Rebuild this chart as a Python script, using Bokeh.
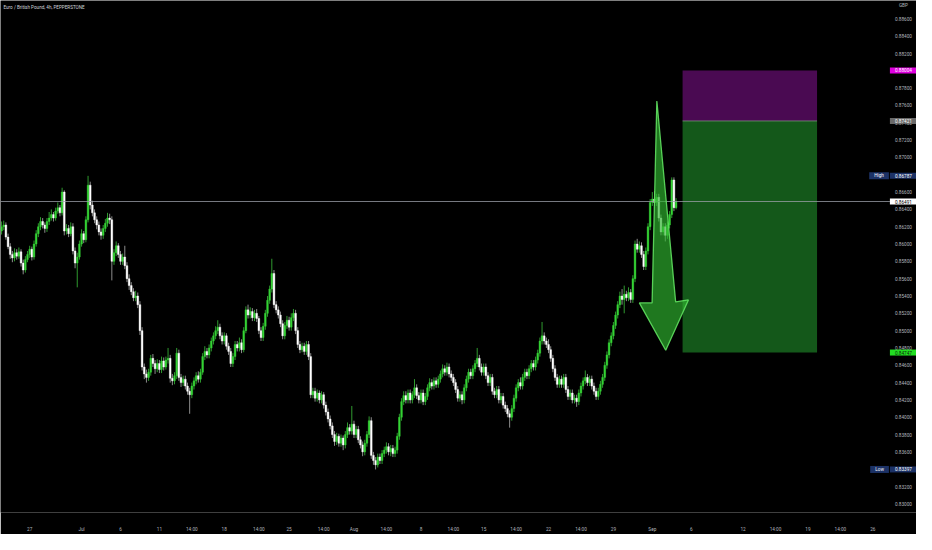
import numpy as np
from bokeh.plotting import figure
from bokeh.models import Range1d, FixedTicker, Label, ColumnDataSource
from bokeh.core.properties import value
from bokeh.embed import file_html
from bokeh.resources import INLINE

# ---------------- data ----------------
first_open = 0.8615
closes = [
    0.8620, 0.8622, 0.8608, 0.8597, 0.8588, 0.8584, 0.8590, 0.8586, 0.8591, 0.8578,
    0.8570, 0.8582, 0.8588, 0.8594, 0.8585, 0.8600, 0.8612, 0.8620, 0.8626, 0.8622,
    0.8618, 0.8626, 0.8630, 0.8634, 0.8630, 0.8638, 0.8642, 0.8636, 0.8660, 0.8615,
    0.8618, 0.8612, 0.8620, 0.8592, 0.8578, 0.8585, 0.8600, 0.8612, 0.8605, 0.8628,
    0.8668, 0.8645, 0.8636, 0.8628, 0.8622, 0.8614, 0.8610, 0.8618, 0.8624, 0.8630,
    0.8628, 0.8580, 0.8590, 0.8598, 0.8588, 0.8580, 0.8585, 0.8575, 0.8560, 0.8552,
    0.8545, 0.8538, 0.8540, 0.8530, 0.8500, 0.8458, 0.8450, 0.8446, 0.8452, 0.8468,
    0.8462, 0.8456, 0.8462, 0.8455, 0.8465, 0.8458, 0.8466, 0.8468, 0.8445, 0.8442,
    0.8448, 0.8474, 0.8446, 0.8440, 0.8444, 0.8436, 0.8430, 0.8426, 0.8436, 0.8442,
    0.8448, 0.8444, 0.8452, 0.8470, 0.8476, 0.8472, 0.8480, 0.8488, 0.8494, 0.8500,
    0.8504, 0.8494, 0.8488, 0.8494, 0.8482, 0.8476, 0.8462, 0.8470, 0.8484, 0.8480,
    0.8486, 0.8478, 0.8500, 0.8524, 0.8518, 0.8522, 0.8515, 0.8520, 0.8514, 0.8500,
    0.8492, 0.8505, 0.8520, 0.8535, 0.8548, 0.8566, 0.8530, 0.8524, 0.8518, 0.8508,
    0.8494, 0.8506, 0.8512, 0.8504, 0.8515, 0.8520, 0.8500, 0.8484, 0.8478, 0.8482,
    0.8476, 0.8484, 0.8470, 0.8426, 0.8430, 0.8422, 0.8428, 0.8420, 0.8426, 0.8414,
    0.8406, 0.8398, 0.8390, 0.8380, 0.8372, 0.8378, 0.8370, 0.8376, 0.8368, 0.8380,
    0.8388, 0.8384, 0.8392, 0.8380, 0.8386, 0.8374, 0.8368, 0.8360, 0.8370, 0.8380,
    0.8396, 0.8356, 0.8350, 0.8345, 0.8354, 0.8350, 0.8358, 0.8362, 0.8366, 0.8360,
    0.8364, 0.8358, 0.8362, 0.8378, 0.8400, 0.8418, 0.8425, 0.8420, 0.8428, 0.8420,
    0.8426, 0.8434, 0.8425, 0.8420, 0.8428, 0.8418, 0.8424, 0.8434, 0.8440, 0.8436,
    0.8442, 0.8438, 0.8444, 0.8450, 0.8456, 0.8452, 0.8458, 0.8450, 0.8446, 0.8440,
    0.8432, 0.8422, 0.8426, 0.8420, 0.8434, 0.8444, 0.8452, 0.8448, 0.8456, 0.8462,
    0.8468, 0.8458, 0.8452, 0.8458, 0.8448, 0.8440, 0.8446, 0.8430, 0.8426, 0.8432,
    0.8420, 0.8424, 0.8414, 0.8410, 0.8404, 0.8400, 0.8410, 0.8422, 0.8434, 0.8440,
    0.8436, 0.8446, 0.8452, 0.8448, 0.8456, 0.8462, 0.8458, 0.8466, 0.8474, 0.8488,
    0.8494, 0.8488, 0.8484, 0.8478, 0.8468, 0.8456, 0.8446, 0.8438, 0.8444, 0.8438,
    0.8446, 0.8432, 0.8424, 0.8428, 0.8420, 0.8422, 0.8418, 0.8428, 0.8436, 0.8442,
    0.8446, 0.8440, 0.8444, 0.8436, 0.8430, 0.8424, 0.8430, 0.8438, 0.8446, 0.8460,
    0.8472, 0.8486, 0.8494, 0.8506, 0.8518, 0.8530, 0.8540, 0.8536, 0.8542, 0.8538,
    0.8544, 0.8536, 0.8560, 0.8600, 0.8594, 0.8598, 0.8588, 0.8574, 0.8592, 0.8620,
    0.8648, 0.8652, 0.8648, 0.8654, 0.8630, 0.8614, 0.8620, 0.8610, 0.8622, 0.8634,
    0.8674, 0.8642, 0.8649,
]
highs = [
    0.8626, 0.8627, 0.8625, 0.8612, 0.8601, 0.8592, 0.8595, 0.8594, 0.8596, 0.8594,
    0.8582, 0.8586, 0.8592, 0.8598, 0.8597, 0.8604, 0.8616, 0.8624, 0.8631, 0.8630,
    0.8625, 0.8630, 0.8637, 0.8640, 0.8637, 0.8642, 0.8648, 0.8645, 0.8665, 0.8662,
    0.8623, 0.8622, 0.8625, 0.8624, 0.8596, 0.8590, 0.8604, 0.8617, 0.8615, 0.8632,
    0.86787, 0.8672, 0.8650, 0.8640, 0.8632, 0.8626, 0.8618, 0.8622, 0.8629, 0.8636,
    0.8635, 0.8632, 0.8594, 0.8603, 0.8601, 0.8592, 0.8589, 0.8598, 0.8579, 0.8565,
    0.8556, 0.8549, 0.8546, 0.8544, 0.8534, 0.8504, 0.8462, 0.8455, 0.8456, 0.8472,
    0.8473, 0.8466, 0.8467, 0.8466, 0.8470, 0.8469, 0.8470, 0.8480, 0.8472, 0.8450,
    0.8452, 0.8480, 0.8478, 0.8450, 0.8448, 0.8448, 0.8440, 0.8434, 0.8440, 0.8446,
    0.8452, 0.8453, 0.8456, 0.8474, 0.8482, 0.8480, 0.8484, 0.8492, 0.8498, 0.8505,
    0.8512, 0.8508, 0.8498, 0.8498, 0.8497, 0.8486, 0.8480, 0.8474, 0.8488, 0.8488,
    0.8492, 0.8490, 0.8504, 0.8528, 0.8530, 0.8527, 0.8526, 0.8524, 0.8525, 0.8517,
    0.8504, 0.8509, 0.8524, 0.8540, 0.8552, 0.8583, 0.8570, 0.8534, 0.8528, 0.8522,
    0.8512, 0.8510, 0.8517, 0.8516, 0.8520, 0.8525, 0.8524, 0.8504, 0.8488, 0.8486,
    0.8486, 0.8488, 0.8488, 0.8474, 0.8434, 0.8434, 0.8432, 0.8431, 0.8430, 0.8429,
    0.8418, 0.8410, 0.8402, 0.8394, 0.8384, 0.8382, 0.8381, 0.8380, 0.8379, 0.8384,
    0.8394, 0.8392, 0.8413, 0.8396, 0.8390, 0.8390, 0.8378, 0.8372, 0.8374, 0.8384,
    0.8401, 0.8400, 0.8360, 0.8354, 0.8358, 0.8358, 0.8362, 0.8366, 0.8371, 0.8370,
    0.8368, 0.8368, 0.8366, 0.8382, 0.8404, 0.8422, 0.8430, 0.8430, 0.8432, 0.8432,
    0.8430, 0.8444, 0.8438, 0.8429, 0.8432, 0.8432, 0.8428, 0.8438, 0.8445, 0.8444,
    0.8446, 0.8446, 0.8448, 0.8454, 0.8461, 0.8460, 0.8463, 0.8462, 0.8454, 0.8450,
    0.8444, 0.8436, 0.8430, 0.8430, 0.8438, 0.8448, 0.8456, 0.8456, 0.8460, 0.8466,
    0.8480, 0.8472, 0.8462, 0.8462, 0.8462, 0.8452, 0.8450, 0.8450, 0.8434, 0.8436,
    0.8436, 0.8428, 0.8428, 0.8418, 0.8414, 0.8408, 0.8414, 0.8426, 0.8438, 0.8444,
    0.8446, 0.8450, 0.8456, 0.8456, 0.8460, 0.8466, 0.8466, 0.8470, 0.8478, 0.8492,
    0.8510, 0.8498, 0.8492, 0.8490, 0.8482, 0.8472, 0.8460, 0.8450, 0.8448, 0.8448,
    0.8450, 0.8450, 0.8436, 0.8432, 0.8432, 0.8426, 0.8426, 0.8432, 0.8440, 0.8446,
    0.8454, 0.8450, 0.8448, 0.8448, 0.8440, 0.8434, 0.8434, 0.8442, 0.8450, 0.8464,
    0.8476, 0.8490, 0.8498, 0.8510, 0.8522, 0.8534, 0.8545, 0.8548, 0.8552, 0.8546,
    0.8550, 0.8548, 0.8564, 0.8604, 0.8606, 0.8603, 0.8602, 0.8592, 0.8596, 0.8624,
    0.8652, 0.8660, 0.8661, 0.8658, 0.8658, 0.8634, 0.8624, 0.8624, 0.8626, 0.8638,
    0.8677, 0.8677, 0.8653,
]
lows = [
    0.8611, 0.8616, 0.8605, 0.8594, 0.8583, 0.8579, 0.8580, 0.8582, 0.8583, 0.8574,
    0.8565, 0.8567, 0.8579, 0.8584, 0.8581, 0.8582, 0.8597, 0.8608, 0.8616, 0.8618,
    0.8613, 0.8614, 0.8622, 0.8627, 0.8626, 0.8627, 0.8635, 0.8632, 0.8633, 0.8610,
    0.8611, 0.8608, 0.8609, 0.8588, 0.8572, 0.8550, 0.8582, 0.8597, 0.8601, 0.8602,
    0.8625, 0.8640, 0.8632, 0.8624, 0.8617, 0.8610, 0.8605, 0.8606, 0.8614, 0.8620,
    0.8623, 0.8558, 0.8576, 0.8586, 0.8584, 0.8576, 0.8576, 0.8571, 0.8556, 0.8547,
    0.8541, 0.8534, 0.8534, 0.8526, 0.8495, 0.8454, 0.8444, 0.8440, 0.8442, 0.8448,
    0.8458, 0.8450, 0.8452, 0.8451, 0.8451, 0.8454, 0.8455, 0.8462, 0.8440, 0.8437,
    0.8438, 0.8444, 0.8442, 0.8435, 0.8436, 0.8432, 0.8426, 0.8404, 0.8422, 0.8432,
    0.8438, 0.8440, 0.8440, 0.8449, 0.8466, 0.8468, 0.8468, 0.8476, 0.8484, 0.8490,
    0.8496, 0.8490, 0.8484, 0.8484, 0.8478, 0.8472, 0.8458, 0.8458, 0.8466, 0.8476,
    0.8476, 0.8474, 0.8475, 0.8497, 0.8514, 0.8514, 0.8511, 0.8511, 0.8510, 0.8496,
    0.8488, 0.8488, 0.8501, 0.8516, 0.8531, 0.8544, 0.8526, 0.8520, 0.8514, 0.8504,
    0.8490, 0.8490, 0.8502, 0.8500, 0.8500, 0.8511, 0.8496, 0.8480, 0.8474, 0.8475,
    0.8472, 0.8472, 0.8466, 0.8422, 0.8422, 0.8418, 0.8418, 0.8416, 0.8416, 0.8410,
    0.8402, 0.8394, 0.8386, 0.8376, 0.8367, 0.8368, 0.8366, 0.8366, 0.8362, 0.8364,
    0.8376, 0.8380, 0.8380, 0.8376, 0.8376, 0.8370, 0.8364, 0.8355, 0.8356, 0.8366,
    0.8376, 0.8352, 0.8345, 0.83397, 0.8342, 0.8346, 0.8346, 0.8354, 0.8358, 0.8356,
    0.8355, 0.8354, 0.8354, 0.8358, 0.8374, 0.8396, 0.8414, 0.8416, 0.8416, 0.8416,
    0.8416, 0.8422, 0.8421, 0.8416, 0.8416, 0.8414, 0.8414, 0.8420, 0.8430, 0.8432,
    0.8432, 0.8434, 0.8434, 0.8440, 0.8446, 0.8448, 0.8448, 0.8446, 0.8442, 0.8436,
    0.8428, 0.8418, 0.8418, 0.8415, 0.8416, 0.8430, 0.8440, 0.8444, 0.8444, 0.8452,
    0.8458, 0.8454, 0.8448, 0.8448, 0.8444, 0.8436, 0.8436, 0.8426, 0.8422, 0.8422,
    0.8416, 0.8416, 0.8410, 0.8406, 0.8400, 0.8388, 0.8396, 0.8406, 0.8418, 0.8430,
    0.8432, 0.8432, 0.8442, 0.8444, 0.8444, 0.8452, 0.8454, 0.8454, 0.8462, 0.8470,
    0.8484, 0.8484, 0.8480, 0.8474, 0.8464, 0.8452, 0.8442, 0.8434, 0.8434, 0.8434,
    0.8434, 0.8428, 0.8420, 0.8420, 0.8416, 0.8416, 0.8412, 0.8414, 0.8424, 0.8432,
    0.8438, 0.8436, 0.8436, 0.8432, 0.8426, 0.8420, 0.8420, 0.8426, 0.8434, 0.8442,
    0.8456, 0.8468, 0.8482, 0.8490, 0.8502, 0.8514, 0.8526, 0.8530, 0.8520, 0.8534,
    0.8534, 0.8532, 0.8532, 0.8556, 0.8590, 0.8590, 0.8584, 0.8570, 0.8570, 0.8588,
    0.8616, 0.8644, 0.8644, 0.8644, 0.8626, 0.8610, 0.8610, 0.8603, 0.8606, 0.8618,
    0.8630, 0.8638, 0.8640,
]

time_tick_pos = [13, 37, 55, 73, 88, 103, 119, 133, 149, 163, 178, 194, 209,
                 223, 238, 253, 268, 283, 301, 319, 343, 358, 373, 388, 403]
time_tick_labels = ["27", "Jul", "6", "11", "14:00", "18", "14:00", "25", "14:00", "Aug",
                    "14:00", "8", "14:00", "15", "14:00", "22", "14:00", "29", "Sep", "6",
                    "12", "14:00", "19", "14:00", "26"]
price_ticks = [0.830, 0.832, 0.834, 0.836, 0.838, 0.840, 0.842, 0.844, 0.846, 0.848,
               0.850, 0.852, 0.854, 0.856, 0.858, 0.860, 0.862, 0.864, 0.866, 0.868,
               0.870, 0.872, 0.874, 0.876, 0.878, 0.880, 0.882, 0.884, 0.886]

title_text = "Euro / British Pound, 4h, PEPPERSTONE"
currency = "GBP"
currency_price = 0.8875
last_price = 0.86491
stop_price = 0.88004
entry_price = 0.87421
target_price = 0.84747
high_price = 0.86787
low_price = 0.83397

# short-position tool (bar index span) and hand-drawn arrow (bar index, price)
box_start, box_end = 315.0, 377.2
arrow_x = [303.1, 311.8, 317.7, 307.2, 295.0, 300.9]
arrow_y = [0.87652, 0.85331, 0.85354, 0.84774, 0.85320, 0.85320]

# ---------------- styling ----------------
BG = "#000000"
UP = "#35d435"
DOWN = "#ffffff"
UP_WICK = "#2f9a2f"
DOWN_WICK = "#8c8c8c"
AXIS_TEXT = "#b2b5be"
FONT = "Roboto"
SCALE_FS = "4.7px"

o = np.array([first_open] + closes[:-1])
c = np.array(closes)
h = np.maximum(np.array(highs), np.maximum(o, c))
l = np.minimum(np.array(lows), np.minimum(o, c))
up = c >= o
src = ColumnDataSource(dict(
    x=np.arange(len(c)), top=np.maximum(o, c), bot=np.minimum(o, c), h=h, l=l,
    color=np.where(up, UP, DOWN), wc=np.where(up, UP_WICK, DOWN_WICK),
))

X0, X_AXIS, X1 = -0.5, 410.9, 423.2     # chart area ends at X_AXIS, price scale beyond
Y0, Y1 = 0.82900, 0.88812
p = figure(width=916, height=534, x_range=Range1d(X0, X1), y_range=Range1d(Y0, Y1),
           output_backend="svg", toolbar_location=None, y_axis_location=None,
           background_fill_color=BG, border_fill_color=BG, outline_line_color=None,
           min_border_left=0, min_border_top=0, min_border_right=0, min_border_bottom=18)
p.xgrid.visible = False
p.ygrid.visible = False

ax = p.xaxis[0]
ax.axis_line_color = None
ax.major_tick_line_color = None
ax.minor_tick_line_color = None
ax.major_label_text_font_size = SCALE_FS
ax.major_label_text_color = AXIS_TEXT
ax.major_label_text_font = FONT
ax.ticker = FixedTicker(ticks=time_tick_pos)
ax.major_label_overrides = {t: s for t, s in zip(time_tick_pos, time_tick_labels)}
ax.major_label_standoff = 8

# position tool
p.quad(left=box_start, right=box_end, bottom=entry_price, top=stop_price,
       fill_color="#4a0a52", line_color=None)
p.quad(left=box_start, right=box_end, bottom=target_price, top=entry_price,
       fill_color="#14581a", line_color=None)
p.segment(x0=box_start, x1=box_end, y0=entry_price, y1=entry_price,
          line_color="#7a8f7a", line_width=1, line_alpha=0.8)

# candles
p.segment("x", "h", "x", "l", source=src, line_color="wc", line_width=1)
p.vbar(x="x", top="top", bottom="bot", width=0.8, source=src,
       fill_color="color", line_color="color", line_width=0.4)

# last price line (chart area only)
p.segment(x0=X0, x1=X_AXIS, y0=last_price, y1=last_price,
          line_color="#9ea2ab", line_width=1, line_alpha=0.75)

# arrow
p.patch(arrow_x, arrow_y, fill_color="#2fb82f", fill_alpha=0.65,
        line_color="#5fe05f", line_width=1.3, line_alpha=0.9)

# price scale
scale_src = ColumnDataSource(dict(
    x=[X_AXIS] * len(price_ticks), y=price_ticks, t=[f"{v:.5f}" for v in price_ticks]))
p.text(x="x", y="y", text="t", source=scale_src, x_offset=5,
       text_font=value(FONT), text_font_size=SCALE_FS, text_color=AXIS_TEXT,
       text_baseline="middle", text_align="left")
p.text(x=[X_AXIS], y=[currency_price], text=[currency], x_offset=9,
       text_font=value(FONT), text_font_size=SCALE_FS, text_color=AXIS_TEXT,
       text_baseline="middle", text_align="left")

# title
p.add_layout(Label(x=X0, y=Y1, x_offset=3, y_offset=-4, text=title_text,
                   text_font=FONT, text_font_size="4.6px", text_color="#d1d4dc",
                   text_baseline="top", text_align="left"))

def axis_tag(price, text, bg, fg, align="left", off=0):
    p.add_layout(Label(x=X_AXIS, y=price, x_offset=off, text=text, text_font=FONT,
                       text_font_size=SCALE_FS, text_color=fg, text_baseline="middle",
                       text_align=align, background_fill_color=bg, padding=(5, 1)))

axis_tag(stop_price, f"{stop_price:.5f}", "#e000e0", "#ffffff")
axis_tag(entry_price, f"{entry_price:.5f}", "#6a6a6a", "#ffffff")
axis_tag(high_price, f"{high_price:.5f}", "#1c3266", "#ffffff")
axis_tag(high_price, "High", "#1c3266", "#ffffff", align="right", off=-1)
axis_tag(last_price, f"{last_price:.5f}", "#ffffff", "#000000")
axis_tag(target_price, f"{target_price:.5f}", "#22dd22", "#0a2a0a")
axis_tag(low_price, f"{low_price:.5f}", "#1c3266", "#ffffff")
axis_tag(low_price, "Low", "#1c3266", "#ffffff", align="right", off=-1)

open("out.html", "w").write(file_html(p, INLINE))
